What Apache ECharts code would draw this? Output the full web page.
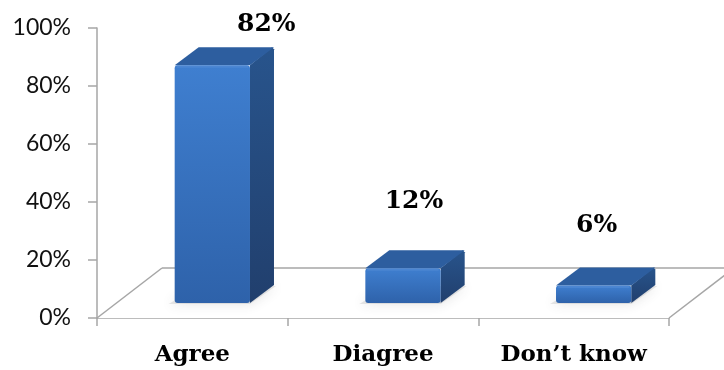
<!DOCTYPE html>
<html>
<head>
<meta charset="utf-8">
<script src="https://cdn.jsdelivr.net/npm/echarts@6/dist/echarts.min.js"></script>
<style>
  html, body { margin: 0; padding: 0; background: #ffffff; }
  #chart { width: 724px; height: 370px; }
</style>
</head>
<body>
<div id="chart"></div>
<script>
// Survey answers, in percent
const categories = ['Agree', 'Diagree', 'Don\u2019t know'];
const values = [82, 12, 6];
const valueLabels = ['82%', '12%', '6%'];

// Value-axis ticks
const yMin = 0;
const yMax = 100;
const yStep = 20;

// Nudges for the value labels, in pixels from the top centre of each bar
const labelNudge = [[54, -41], [11, -67], [3, -60]];

// 3D look: floor depth and bar depth (pixels)
const FLOOR_DX = 65, FLOOR_DY = -50;
const FRONT_DX = 20, FRONT_DY = -15;
const BAR_DX = 24, BAR_DY = -18;
const BAR_RATIO = 0.395;

const chart = echarts.init(document.getElementById('chart'), null, { renderer: 'canvas' });

function renderFloor(params, api) {
  const cs = params.coordSys;
  const x0 = cs.x, x1 = cs.x + cs.width, y0 = cs.y + cs.height;
  const lineStyle = { stroke: '#a6a6a6', lineWidth: 1.5, fill: null };
  return {
    type: 'group',
    children: [
      { type: 'polygon', shape: { points: [[x0, y0], [x1, y0], [x1 + FLOOR_DX, y0 + FLOOR_DY], [x0 + FLOOR_DX, y0 + FLOOR_DY]] },
        style: { fill: '#ffffff' } },
      { type: 'line', shape: { x1: x0, y1: y0, x2: x0 + FLOOR_DX, y2: y0 + FLOOR_DY }, style: lineStyle },
      { type: 'line', shape: { x1: x0 + FLOOR_DX, y1: y0 + FLOOR_DY, x2: x1 + FLOOR_DX, y2: y0 + FLOOR_DY }, style: lineStyle },
      { type: 'line', shape: { x1: x1, y1: y0, x2: x1 + FLOOR_DX, y2: y0 + FLOOR_DY }, style: lineStyle }
    ]
  };
}

function renderBar(params, api) {
  const i = api.value(0);
  const v = api.value(1);
  const base = api.coord([i, 0]);
  const top = api.coord([i, v]);
  const band = api.size([1, 0])[0];
  const w = band * BAR_RATIO;
  const x0 = base[0] - w / 2 + FRONT_DX;
  const x1 = x0 + w;
  const yb = base[1] + FRONT_DY;
  const yt = top[1] + FRONT_DY;

  const frontFill = new echarts.graphic.LinearGradient(0, 0, 0, 1, [
    { offset: 0, color: '#3f7fd0' },
    { offset: 1, color: '#2e62aa' }
  ]);
  const sideFill = new echarts.graphic.LinearGradient(0, 0, 0, 1, [
    { offset: 0, color: '#28548c' },
    { offset: 1, color: '#213f6d' }
  ]);
  const nudge = labelNudge[params.dataIndex];
  const cx = x0 + w / 2;

  return {
    type: 'group',
    children: [
      // soft shadow on the floor
      { type: 'polygon',
        shape: { points: [[x0 - 6, yb + 1], [x1, yb + 1], [x1 + BAR_DX + 2, yb + BAR_DY + 1], [x0 + BAR_DX, yb + BAR_DY + 1]] },
        style: { fill: 'rgba(140,140,140,0.2)', shadowBlur: 12, shadowColor: 'rgba(70,70,70,0.75)' } },
      // side face
      { type: 'polygon',
        shape: { points: [[x1, yb], [x1 + BAR_DX, yb + BAR_DY], [x1 + BAR_DX, yt + BAR_DY + 2], [x1 + BAR_DX - 2, yt + BAR_DY], [x1, yt]] },
        style: { fill: sideFill } },
      // top face
      { type: 'polygon',
        shape: { points: [[x0, yt], [x1, yt], [x1 + BAR_DX, yt + BAR_DY], [x0 + BAR_DX, yt + BAR_DY]] },
        style: { fill: '#2d5e9f' } },
      // front face
      { type: 'rect',
        shape: { x: x0, y: yt, width: w, height: yb - yt, r: 3 },
        style: { fill: frontFill } },
      // soft bevel along the top-front edge
      { type: 'line',
        shape: { x1: x0 + 2, y1: yt + 1.5, x2: x1 - 2, y2: yt + 1.5 },
        style: { stroke: 'rgba(90,145,215,0.45)', lineWidth: 2 } },
      // value label
      { type: 'text',
        x: cx + nudge[0], y: yt + BAR_DY + nudge[1] + 18,
        style: {
          text: valueLabels[params.dataIndex],
          fill: '#000000',
          font: 'bold 25px "DejaVu Serif", "Liberation Serif", serif',
          align: 'center', verticalAlign: 'middle'
        } }
    ]
  };
}

chart.setOption({
  animation: false,
  backgroundColor: '#ffffff',
  grid: { left: 97, right: 55, top: 28, bottom: 52 },
  xAxis: {
    type: 'category',
    data: categories,
    boundaryGap: true,
    axisLine: { show: true, lineStyle: { color: '#a6a6a6', width: 1.5 } },
    axisTick: { show: true, length: 8, alignWithLabel: false, lineStyle: { color: '#a6a6a6', width: 1.5 } },
    axisLabel: {
      margin: 26,
      color: '#000000',
      fontFamily: '"DejaVu Serif", "Liberation Serif", serif',
      fontWeight: 'bold',
      fontSize: 23
    },
    splitLine: { show: false }
  },
  yAxis: {
    type: 'value',
    min: yMin,
    max: yMax,
    interval: yStep,
    axisLine: { show: true, lineStyle: { color: '#a6a6a6', width: 1.5 } },
    axisTick: { show: true, length: 9, lineStyle: { color: '#a6a6a6', width: 1.5 } },
    axisLabel: {
      margin: 26,
      color: '#111111',
      fontFamily: 'Lato, "Open Sans", sans-serif',
      fontSize: 23,
      formatter: '{value}%'
    },
    splitLine: { show: false }
  },
  series: [
    {
      type: 'custom',
      name: 'floor',
      renderItem: renderFloor,
      data: [[0, 0]],
      clip: false,
      silent: true,
      z: 1
    },
    {
      type: 'custom',
      name: 'answers',
      renderItem: renderBar,
      data: values.map((v, i) => [i, v]),
      clip: false,
      z: 2
    }
  ]
});
</script>
</body>
</html>
